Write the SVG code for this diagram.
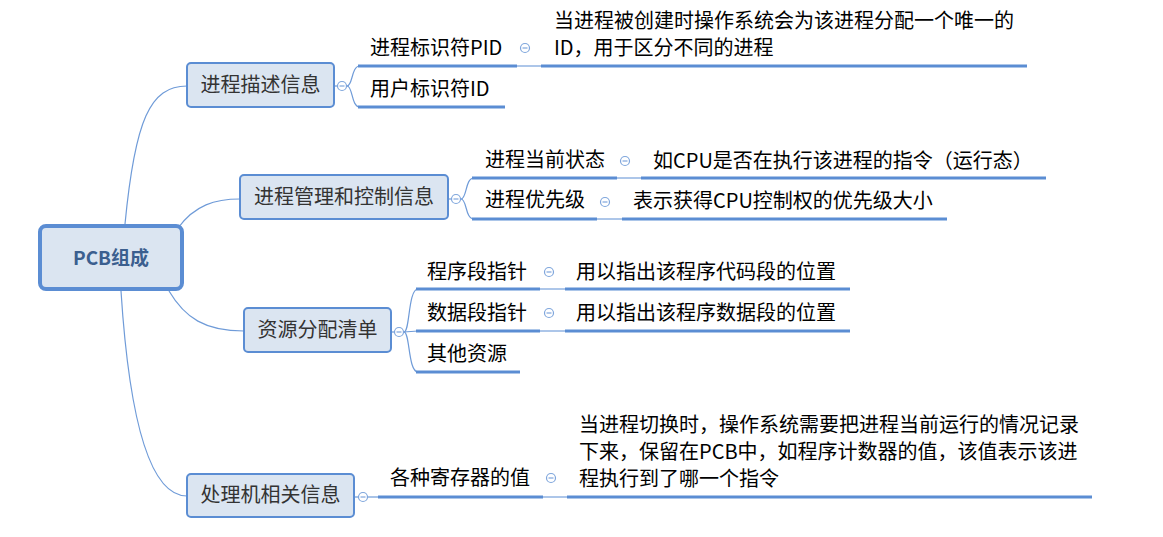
<svg xmlns="http://www.w3.org/2000/svg" width="1163" height="537" viewBox="0 0 1163 537">
<style>
.bg{fill:#ffffff}
.box{fill:#dbe5f1;stroke:#5b8dd3;stroke-width:2}
.root{fill:#dbe5f1;stroke:#5b8dd3;stroke-width:4}
.conn{fill:none;stroke:#6f9bd8;stroke-width:1.2}
.ul{fill:none;stroke:#5b8dd3;stroke-width:3}
.thin{fill:none;stroke:#5b8dd3;stroke-width:1}
.tog{fill:#ffffff;stroke:#7fa6dc;stroke-width:1.2}
.togm{stroke:#7fa6dc;stroke-width:1.2}
text{font-family:"Noto Sans CJK SC","Noto Sans",sans-serif;font-size:20px}
.bt{fill:#333333;text-anchor:middle}
.rt{fill:#3b5f8f;font-size:19px;font-weight:bold;text-anchor:middle}
.ct{fill:#000000}
</style>
<rect class="bg" x="0" y="0" width="1163" height="537"/>
<g id="connectors">
  <path class="conn" d="M125,224 C135,120 150,86 187,86"/>
  <path class="conn" d="M178,228 C195,205 215,199 240,199"/>
  <path class="conn" d="M169,291 C185,318 205,331 244,331"/>
  <path class="conn" d="M121,291 C128,400 145,496 187,496"/>
  <line class="conn" x1="335" y1="86" x2="338" y2="86"/>
  <path class="conn" d="M347,86 C353,86 351,66 360,66"/>
  <path class="conn" d="M347,86 C353,86 351,107 360,107"/>
  <line class="conn" x1="448" y1="199" x2="452" y2="199"/>
  <path class="conn" d="M461,199 C467,199 465,178 474,178"/>
  <path class="conn" d="M461,199 C467,199 465,219 474,219"/>
  <line class="conn" x1="391" y1="332" x2="395" y2="332"/>
  <path class="conn" d="M404,332 C410,332 408,289 418,289"/>
  <path class="conn" d="M404,332 L418,331"/>
  <path class="conn" d="M404,332 C410,332 408,372 418,372"/>
  <line class="conn" x1="354" y1="497" x2="359" y2="497"/>
  <line class="conn" x1="368" y1="497" x2="378" y2="497"/>
  <line class="thin" x1="517" y1="66" x2="541" y2="66"/>
  <line class="thin" x1="617" y1="178" x2="641" y2="178"/>
  <line class="thin" x1="597" y1="219" x2="622" y2="219"/>
  <line class="thin" x1="540" y1="289" x2="565" y2="289"/>
  <line class="thin" x1="540" y1="331" x2="565" y2="331"/>
  <line class="thin" x1="543" y1="497" x2="567" y2="497"/>
</g>
<g id="root">
  <rect class="root" x="40" y="226" width="142" height="63" rx="6"/>
  <text class="rt" x="111" y="265">PCB组成</text>
</g>
<g id="n1">
  <rect class="box" x="187" y="63" width="147" height="44" rx="4"/>
  <text class="bt" x="260.5" y="92">进程描述信息</text>
  <circle class="tog" cx="342" cy="86" r="4.5"/><line class="togm" x1="339.5" y1="86" x2="344.5" y2="86"/>
</g>
<g id="n1a">
  <text class="ct" x="370" y="55">进程标识符PID</text>
  <line class="ul" x1="358" y1="66" x2="517" y2="66"/>
  <circle class="tog" cx="525" cy="48" r="4.5"/><line class="togm" x1="522.5" y1="48" x2="527.5" y2="48"/>
</g>
<g id="n1a1">
  <text class="ct" x="554" y="28">当进程被创建时操作系统会为该进程分配一个唯一的</text>
  <text class="ct" x="554" y="55">ID，用于区分不同的进程</text>
  <line class="ul" x1="541" y1="66" x2="1027" y2="66"/>
</g>
<g id="n1b">
  <text class="ct" x="370" y="96">用户标识符ID</text>
  <line class="ul" x1="358" y1="107" x2="505" y2="107"/>
</g>
<g id="n2">
  <rect class="box" x="240" y="175" width="208" height="44" rx="4"/>
  <text class="bt" x="344" y="204">进程管理和控制信息</text>
  <circle class="tog" cx="456" cy="199" r="4.5"/><line class="togm" x1="453.5" y1="199" x2="458.5" y2="199"/>
</g>
<g id="n2a">
  <text class="ct" x="485" y="167">进程当前状态</text>
  <line class="ul" x1="472" y1="178" x2="617" y2="178"/>
  <circle class="tog" cx="625" cy="161" r="4.5"/><line class="togm" x1="622.5" y1="161" x2="627.5" y2="161"/>
</g>
<g id="n2a1">
  <text class="ct" x="653" y="168">如CPU是否在执行该进程的指令（运行态）</text>
  <line class="ul" x1="641" y1="178" x2="1046" y2="178"/>
</g>
<g id="n2b">
  <text class="ct" x="485" y="207">进程优先级</text>
  <line class="ul" x1="472" y1="219" x2="597" y2="219"/>
  <circle class="tog" cx="605" cy="202" r="4.5"/><line class="togm" x1="602.5" y1="202" x2="607.5" y2="202"/>
</g>
<g id="n2b1">
  <text class="ct" x="633" y="208">表示获得CPU控制权的优先级大小</text>
  <line class="ul" x1="622" y1="219" x2="947" y2="219"/>
</g>
<g id="n3">
  <rect class="box" x="244" y="308" width="147" height="44" rx="4"/>
  <text class="bt" x="317.5" y="337">资源分配清单</text>
  <circle class="tog" cx="399" cy="332" r="4.5"/><line class="togm" x1="396.5" y1="332" x2="401.5" y2="332"/>
</g>
<g id="n3a">
  <text class="ct" x="427" y="279">程序段指针</text>
  <line class="ul" x1="416" y1="289" x2="540" y2="289"/>
  <circle class="tog" cx="549" cy="272" r="4.5"/><line class="togm" x1="546.5" y1="272" x2="551.5" y2="272"/>
</g>
<g id="n3a1">
  <text class="ct" x="576" y="279">用以指出该程序代码段的位置</text>
  <line class="ul" x1="565" y1="289" x2="850" y2="289"/>
</g>
<g id="n3b">
  <text class="ct" x="427" y="320">数据段指针</text>
  <line class="ul" x1="416" y1="331" x2="540" y2="331"/>
  <circle class="tog" cx="549" cy="313" r="4.5"/><line class="togm" x1="546.5" y1="313" x2="551.5" y2="313"/>
</g>
<g id="n3b1">
  <text class="ct" x="576" y="320">用以指出该程序数据段的位置</text>
  <line class="ul" x1="565" y1="331" x2="850" y2="331"/>
</g>
<g id="n3c">
  <text class="ct" x="427" y="361">其他资源</text>
  <line class="ul" x1="416" y1="372" x2="520" y2="372"/>
</g>
<g id="n4">
  <rect class="box" x="187" y="474" width="167" height="43" rx="4"/>
  <text class="bt" x="270.5" y="502">处理机相关信息</text>
  <circle class="tog" cx="363" cy="497" r="4.5"/><line class="togm" x1="360.5" y1="497" x2="365.5" y2="497"/>
</g>
<g id="n4a">
  <text class="ct" x="390" y="485">各种寄存器的值</text>
  <line class="ul" x1="378" y1="497" x2="543" y2="497"/>
  <circle class="tog" cx="551" cy="478" r="4.5"/><line class="togm" x1="548.5" y1="478" x2="553.5" y2="478"/>
</g>
<g id="n4a1">
  <text class="ct" x="579" y="432">当进程切换时，操作系统需要把进程当前运行的情况记录</text>
  <text class="ct" x="579" y="459">下来，保留在PCB中，如程序计数器的值，该值表示该进</text>
  <text class="ct" x="579" y="486">程执行到了哪一个指令</text>
  <line class="ul" x1="567" y1="497" x2="1092" y2="497"/>
</g>
</svg>
